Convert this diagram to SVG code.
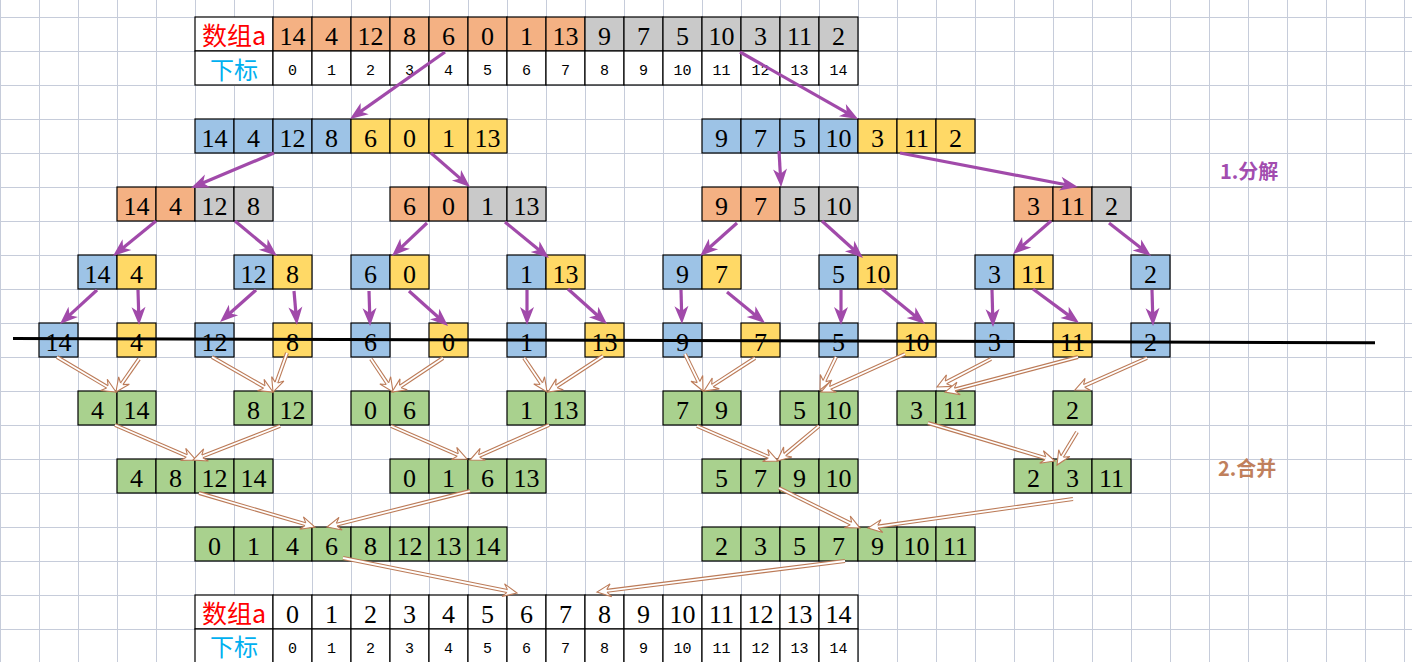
<svg xmlns="http://www.w3.org/2000/svg" width="1412" height="662" viewBox="0 0 1412 662">
<style>
.nd rect{stroke:#000;stroke-width:1.2}
.o{fill:#F4B183}.g{fill:#C9C9C9}.b{fill:#9DC3E6}.y{fill:#FFD966}.v{fill:#A9D18E}.w{fill:#fff}
.nd text{font-family:"Liberation Serif",serif;font-size:26px;text-anchor:middle;fill:#000}
.nd text.ix{font-family:"Liberation Mono",monospace;font-size:15px}
.nd text.lr{font-family:"Noto Sans CJK SC",sans-serif;font-size:25px;fill:#FF0000}
.nd text.lc{font-family:"Noto Sans CJK SC",sans-serif;font-size:24px;fill:#00B0F0}
.pp{stroke:#A14AAA;stroke-width:3.2;fill:none;marker-end:url(#hp)}
.mo{stroke:#BC7B58;stroke-width:4;fill:none}
.mi{stroke:#fff;stroke-width:1.8;fill:none;marker-end:url(#hb)}
.ttl{font-family:"Noto Sans CJK SC",sans-serif;font-size:20px;font-weight:bold}
</style>
<defs>
<pattern id="grid" patternUnits="userSpaceOnUse" x="0" y="17" width="39" height="34">
<path d="M0.5,0V34M0,0.5H39" stroke="#C6CCDA" stroke-width="1" fill="none"/>
</pattern>
<marker id="hp" markerUnits="userSpaceOnUse" viewBox="-8 -9 22 18" refX="0" refY="0" markerWidth="22" markerHeight="18" orient="auto" overflow="visible">
<path d="M12,0L-6,-7L-1,0L-6,7Z" fill="#A14AAA"/>
</marker>
<marker id="hb" markerUnits="userSpaceOnUse" viewBox="-6 -8 18 16" refX="0" refY="0" markerWidth="18" markerHeight="16" orient="auto" overflow="visible">
<path d="M0,1.4L-4,6.5L10,0L-4,-6.5L0,-1.4" fill="#fff" stroke="#BC7B58" stroke-width="1.1"/>
</marker>
</defs>
<rect width="1412" height="662" fill="#fff"/>
<rect width="1412" height="662" fill="url(#grid)"/>

<g id="nodes">
<g id="arr-top" class="nd" transform="translate(195,17)">
<rect class="w" x="0" y="0" width="78" height="34"/><text class="lr" x="39" y="28">数组a</text>
<rect class="o" x="78" y="0" width="39" height="34"/><text x="97.5" y="28">14</text>
<rect class="o" x="117" y="0" width="39" height="34"/><text x="136.5" y="28">4</text>
<rect class="o" x="156" y="0" width="39" height="34"/><text x="175.5" y="28">12</text>
<rect class="o" x="195" y="0" width="39" height="34"/><text x="214.5" y="28">8</text>
<rect class="o" x="234" y="0" width="39" height="34"/><text x="253.5" y="28">6</text>
<rect class="o" x="273" y="0" width="39" height="34"/><text x="292.5" y="28">0</text>
<rect class="o" x="312" y="0" width="39" height="34"/><text x="331.5" y="28">1</text>
<rect class="o" x="351" y="0" width="39" height="34"/><text x="370.5" y="28">13</text>
<rect class="g" x="390" y="0" width="39" height="34"/><text x="409.5" y="28">9</text>
<rect class="g" x="429" y="0" width="39" height="34"/><text x="448.5" y="28">7</text>
<rect class="g" x="468" y="0" width="39" height="34"/><text x="487.5" y="28">5</text>
<rect class="g" x="507" y="0" width="39" height="34"/><text x="526.5" y="28">10</text>
<rect class="g" x="546" y="0" width="39" height="34"/><text x="565.5" y="28">3</text>
<rect class="g" x="585" y="0" width="39" height="34"/><text x="604.5" y="28">11</text>
<rect class="g" x="624" y="0" width="39" height="34"/><text x="643.5" y="28">2</text>
<rect class="w" x="0" y="34" width="78" height="34"/><text class="lc" x="39" y="62">下标</text>
<rect class="w" x="78" y="34" width="39" height="34"/><text class="ix" x="97.5" y="58">0</text>
<rect class="w" x="117" y="34" width="39" height="34"/><text class="ix" x="136.5" y="58">1</text>
<rect class="w" x="156" y="34" width="39" height="34"/><text class="ix" x="175.5" y="58">2</text>
<rect class="w" x="195" y="34" width="39" height="34"/><text class="ix" x="214.5" y="58">3</text>
<rect class="w" x="234" y="34" width="39" height="34"/><text class="ix" x="253.5" y="58">4</text>
<rect class="w" x="273" y="34" width="39" height="34"/><text class="ix" x="292.5" y="58">5</text>
<rect class="w" x="312" y="34" width="39" height="34"/><text class="ix" x="331.5" y="58">6</text>
<rect class="w" x="351" y="34" width="39" height="34"/><text class="ix" x="370.5" y="58">7</text>
<rect class="w" x="390" y="34" width="39" height="34"/><text class="ix" x="409.5" y="58">8</text>
<rect class="w" x="429" y="34" width="39" height="34"/><text class="ix" x="448.5" y="58">9</text>
<rect class="w" x="468" y="34" width="39" height="34"/><text class="ix" x="487.5" y="58">10</text>
<rect class="w" x="507" y="34" width="39" height="34"/><text class="ix" x="526.5" y="58">11</text>
<rect class="w" x="546" y="34" width="39" height="34"/><text class="ix" x="565.5" y="58">12</text>
<rect class="w" x="585" y="34" width="39" height="34"/><text class="ix" x="604.5" y="58">13</text>
<rect class="w" x="624" y="34" width="39" height="34"/><text class="ix" x="643.5" y="58">14</text>
</g>

<g id="l1-left" class="nd" transform="translate(195,119)">
<rect class="b" x="0" width="39" height="34"/><text x="19.5" y="28">14</text>
<rect class="b" x="39" width="39" height="34"/><text x="58.5" y="28">4</text>
<rect class="b" x="78" width="39" height="34"/><text x="97.5" y="28">12</text>
<rect class="b" x="117" width="39" height="34"/><text x="136.5" y="28">8</text>
<rect class="y" x="156" width="39" height="34"/><text x="175.5" y="28">6</text>
<rect class="y" x="195" width="39" height="34"/><text x="214.5" y="28">0</text>
<rect class="y" x="234" width="39" height="34"/><text x="253.5" y="28">1</text>
<rect class="y" x="273" width="39" height="34"/><text x="292.5" y="28">13</text>
</g>
<g id="l1-right" class="nd" transform="translate(702,119)">
<rect class="b" x="0" width="39" height="34"/><text x="19.5" y="28">9</text>
<rect class="b" x="39" width="39" height="34"/><text x="58.5" y="28">7</text>
<rect class="b" x="78" width="39" height="34"/><text x="97.5" y="28">5</text>
<rect class="b" x="117" width="39" height="34"/><text x="136.5" y="28">10</text>
<rect class="y" x="156" width="39" height="34"/><text x="175.5" y="28">3</text>
<rect class="y" x="195" width="39" height="34"/><text x="214.5" y="28">11</text>
<rect class="y" x="234" width="39" height="34"/><text x="253.5" y="28">2</text>
</g>

<g id="l2-a" class="nd" transform="translate(117,187)">
<rect class="o" x="0" width="39" height="34"/><text x="19.5" y="28">14</text>
<rect class="o" x="39" width="39" height="34"/><text x="58.5" y="28">4</text>
<rect class="g" x="78" width="39" height="34"/><text x="97.5" y="28">12</text>
<rect class="g" x="117" width="39" height="34"/><text x="136.5" y="28">8</text>
</g>
<g id="l2-b" class="nd" transform="translate(390,187)">
<rect class="o" x="0" width="39" height="34"/><text x="19.5" y="28">6</text>
<rect class="o" x="39" width="39" height="34"/><text x="58.5" y="28">0</text>
<rect class="g" x="78" width="39" height="34"/><text x="97.5" y="28">1</text>
<rect class="g" x="117" width="39" height="34"/><text x="136.5" y="28">13</text>
</g>
<g id="l2-c" class="nd" transform="translate(702,187)">
<rect class="o" x="0" width="39" height="34"/><text x="19.5" y="28">9</text>
<rect class="o" x="39" width="39" height="34"/><text x="58.5" y="28">7</text>
<rect class="g" x="78" width="39" height="34"/><text x="97.5" y="28">5</text>
<rect class="g" x="117" width="39" height="34"/><text x="136.5" y="28">10</text>
</g>
<g id="l2-d" class="nd" transform="translate(1014,187)">
<rect class="o" x="0" width="39" height="34"/><text x="19.5" y="28">3</text>
<rect class="o" x="39" width="39" height="34"/><text x="58.5" y="28">11</text>
<rect class="g" x="78" width="39" height="34"/><text x="97.5" y="28">2</text>
</g>

<g id="l3-1" class="nd" transform="translate(78,255)">
<rect class="b" x="0" width="39" height="34"/><text x="19.5" y="28">14</text>
<rect class="y" x="39" width="39" height="34"/><text x="58.5" y="28">4</text>
</g>
<g id="l3-2" class="nd" transform="translate(234,255)">
<rect class="b" x="0" width="39" height="34"/><text x="19.5" y="28">12</text>
<rect class="y" x="39" width="39" height="34"/><text x="58.5" y="28">8</text>
</g>
<g id="l3-3" class="nd" transform="translate(351,255)">
<rect class="b" x="0" width="39" height="34"/><text x="19.5" y="28">6</text>
<rect class="y" x="39" width="39" height="34"/><text x="58.5" y="28">0</text>
</g>
<g id="l3-4" class="nd" transform="translate(507,255)">
<rect class="b" x="0" width="39" height="34"/><text x="19.5" y="28">1</text>
<rect class="y" x="39" width="39" height="34"/><text x="58.5" y="28">13</text>
</g>
<g id="l3-5" class="nd" transform="translate(663,255)">
<rect class="b" x="0" width="39" height="34"/><text x="19.5" y="28">9</text>
<rect class="y" x="39" width="39" height="34"/><text x="58.5" y="28">7</text>
</g>
<g id="l3-6" class="nd" transform="translate(819,255)">
<rect class="b" x="0" width="39" height="34"/><text x="19.5" y="28">5</text>
<rect class="y" x="39" width="39" height="34"/><text x="58.5" y="28">10</text>
</g>
<g id="l3-7" class="nd" transform="translate(975,255)">
<rect class="b" x="0" width="39" height="34"/><text x="19.5" y="28">3</text>
<rect class="y" x="39" width="39" height="34"/><text x="58.5" y="28">11</text>
</g>
<g id="l3-8" class="nd" transform="translate(1131,255)">
<rect class="b" x="0" width="39" height="34"/><text x="19.5" y="28">2</text>
</g>

<g id="l4-1" class="nd" transform="translate(39,323)"><rect class="b" width="39" height="34"/><text x="19.5" y="28">14</text></g>
<g id="l4-2" class="nd" transform="translate(117,323)"><rect class="y" width="39" height="34"/><text x="19.5" y="28">4</text></g>
<g id="l4-3" class="nd" transform="translate(195,323)"><rect class="b" width="39" height="34"/><text x="19.5" y="28">12</text></g>
<g id="l4-4" class="nd" transform="translate(273,323)"><rect class="y" width="39" height="34"/><text x="19.5" y="28">8</text></g>
<g id="l4-5" class="nd" transform="translate(351,323)"><rect class="b" width="39" height="34"/><text x="19.5" y="28">6</text></g>
<g id="l4-6" class="nd" transform="translate(429,323)"><rect class="y" width="39" height="34"/><text x="19.5" y="28">0</text></g>
<g id="l4-7" class="nd" transform="translate(507,323)"><rect class="b" width="39" height="34"/><text x="19.5" y="28">1</text></g>
<g id="l4-8" class="nd" transform="translate(585,323)"><rect class="y" width="39" height="34"/><text x="19.5" y="28">13</text></g>
<g id="l4-9" class="nd" transform="translate(663,323)"><rect class="b" width="39" height="34"/><text x="19.5" y="28">9</text></g>
<g id="l4-10" class="nd" transform="translate(741,323)"><rect class="y" width="39" height="34"/><text x="19.5" y="28">7</text></g>
<g id="l4-11" class="nd" transform="translate(819,323)"><rect class="b" width="39" height="34"/><text x="19.5" y="28">5</text></g>
<g id="l4-12" class="nd" transform="translate(897,323)"><rect class="y" width="39" height="34"/><text x="19.5" y="28">10</text></g>
<g id="l4-13" class="nd" transform="translate(975,323)"><rect class="b" width="39" height="34"/><text x="19.5" y="28">3</text></g>
<g id="l4-14" class="nd" transform="translate(1053,323)"><rect class="y" width="39" height="34"/><text x="19.5" y="28">11</text></g>
<g id="l4-15" class="nd" transform="translate(1131,323)"><rect class="b" width="39" height="34"/><text x="19.5" y="28">2</text></g>

<g id="m1-1" class="nd" transform="translate(78,391)">
<rect class="v" x="0" width="39" height="34"/><text x="19.5" y="28">4</text>
<rect class="v" x="39" width="39" height="34"/><text x="58.5" y="28">14</text>
</g>
<g id="m1-2" class="nd" transform="translate(234,391)">
<rect class="v" x="0" width="39" height="34"/><text x="19.5" y="28">8</text>
<rect class="v" x="39" width="39" height="34"/><text x="58.5" y="28">12</text>
</g>
<g id="m1-3" class="nd" transform="translate(351,391)">
<rect class="v" x="0" width="39" height="34"/><text x="19.5" y="28">0</text>
<rect class="v" x="39" width="39" height="34"/><text x="58.5" y="28">6</text>
</g>
<g id="m1-4" class="nd" transform="translate(507,391)">
<rect class="v" x="0" width="39" height="34"/><text x="19.5" y="28">1</text>
<rect class="v" x="39" width="39" height="34"/><text x="58.5" y="28">13</text>
</g>
<g id="m1-5" class="nd" transform="translate(663,391)">
<rect class="v" x="0" width="39" height="34"/><text x="19.5" y="28">7</text>
<rect class="v" x="39" width="39" height="34"/><text x="58.5" y="28">9</text>
</g>
<g id="m1-6" class="nd" transform="translate(780,391)">
<rect class="v" x="0" width="39" height="34"/><text x="19.5" y="28">5</text>
<rect class="v" x="39" width="39" height="34"/><text x="58.5" y="28">10</text>
</g>
<g id="m1-7" class="nd" transform="translate(897,391)">
<rect class="v" x="0" width="39" height="34"/><text x="19.5" y="28">3</text>
<rect class="v" x="39" width="39" height="34"/><text x="58.5" y="28">11</text>
</g>
<g id="m1-8" class="nd" transform="translate(1053,391)">
<rect class="v" x="0" width="39" height="34"/><text x="19.5" y="28">2</text>
</g>

<g id="m2-1" class="nd" transform="translate(117,459)">
<rect class="v" x="0" width="39" height="34"/><text x="19.5" y="28">4</text>
<rect class="v" x="39" width="39" height="34"/><text x="58.5" y="28">8</text>
<rect class="v" x="78" width="39" height="34"/><text x="97.5" y="28">12</text>
<rect class="v" x="117" width="39" height="34"/><text x="136.5" y="28">14</text>
</g>
<g id="m2-2" class="nd" transform="translate(390,459)">
<rect class="v" x="0" width="39" height="34"/><text x="19.5" y="28">0</text>
<rect class="v" x="39" width="39" height="34"/><text x="58.5" y="28">1</text>
<rect class="v" x="78" width="39" height="34"/><text x="97.5" y="28">6</text>
<rect class="v" x="117" width="39" height="34"/><text x="136.5" y="28">13</text>
</g>
<g id="m2-3" class="nd" transform="translate(702,459)">
<rect class="v" x="0" width="39" height="34"/><text x="19.5" y="28">5</text>
<rect class="v" x="39" width="39" height="34"/><text x="58.5" y="28">7</text>
<rect class="v" x="78" width="39" height="34"/><text x="97.5" y="28">9</text>
<rect class="v" x="117" width="39" height="34"/><text x="136.5" y="28">10</text>
</g>
<g id="m2-4" class="nd" transform="translate(1014,459)">
<rect class="v" x="0" width="39" height="34"/><text x="19.5" y="28">2</text>
<rect class="v" x="39" width="39" height="34"/><text x="58.5" y="28">3</text>
<rect class="v" x="78" width="39" height="34"/><text x="97.5" y="28">11</text>
</g>

<g id="m3-1" class="nd" transform="translate(195,527)">
<rect class="v" x="0" width="39" height="34"/><text x="19.5" y="28">0</text>
<rect class="v" x="39" width="39" height="34"/><text x="58.5" y="28">1</text>
<rect class="v" x="78" width="39" height="34"/><text x="97.5" y="28">4</text>
<rect class="v" x="117" width="39" height="34"/><text x="136.5" y="28">6</text>
<rect class="v" x="156" width="39" height="34"/><text x="175.5" y="28">8</text>
<rect class="v" x="195" width="39" height="34"/><text x="214.5" y="28">12</text>
<rect class="v" x="234" width="39" height="34"/><text x="253.5" y="28">13</text>
<rect class="v" x="273" width="39" height="34"/><text x="292.5" y="28">14</text>
</g>
<g id="m3-2" class="nd" transform="translate(702,527)">
<rect class="v" x="0" width="39" height="34"/><text x="19.5" y="28">2</text>
<rect class="v" x="39" width="39" height="34"/><text x="58.5" y="28">3</text>
<rect class="v" x="78" width="39" height="34"/><text x="97.5" y="28">5</text>
<rect class="v" x="117" width="39" height="34"/><text x="136.5" y="28">7</text>
<rect class="v" x="156" width="39" height="34"/><text x="175.5" y="28">9</text>
<rect class="v" x="195" width="39" height="34"/><text x="214.5" y="28">10</text>
<rect class="v" x="234" width="39" height="34"/><text x="253.5" y="28">11</text>
</g>

<g id="arr-final" class="nd" transform="translate(195,595)">
<rect class="w" x="0" y="0" width="78" height="34"/><text class="lr" x="39" y="28">数组a</text>
<rect class="w" x="78" y="0" width="39" height="34"/><text x="97.5" y="28">0</text>
<rect class="w" x="117" y="0" width="39" height="34"/><text x="136.5" y="28">1</text>
<rect class="w" x="156" y="0" width="39" height="34"/><text x="175.5" y="28">2</text>
<rect class="w" x="195" y="0" width="39" height="34"/><text x="214.5" y="28">3</text>
<rect class="w" x="234" y="0" width="39" height="34"/><text x="253.5" y="28">4</text>
<rect class="w" x="273" y="0" width="39" height="34"/><text x="292.5" y="28">5</text>
<rect class="w" x="312" y="0" width="39" height="34"/><text x="331.5" y="28">6</text>
<rect class="w" x="351" y="0" width="39" height="34"/><text x="370.5" y="28">7</text>
<rect class="w" x="390" y="0" width="39" height="34"/><text x="409.5" y="28">8</text>
<rect class="w" x="429" y="0" width="39" height="34"/><text x="448.5" y="28">9</text>
<rect class="w" x="468" y="0" width="39" height="34"/><text x="487.5" y="28">10</text>
<rect class="w" x="507" y="0" width="39" height="34"/><text x="526.5" y="28">11</text>
<rect class="w" x="546" y="0" width="39" height="34"/><text x="565.5" y="28">12</text>
<rect class="w" x="585" y="0" width="39" height="34"/><text x="604.5" y="28">13</text>
<rect class="w" x="624" y="0" width="39" height="34"/><text x="643.5" y="28">14</text>
<rect class="w" x="0" y="34" width="78" height="34"/><text class="lc" x="39" y="60.5">下标</text>
<rect class="w" x="78" y="34" width="39" height="34"/><text class="ix" x="97.5" y="58">0</text>
<rect class="w" x="117" y="34" width="39" height="34"/><text class="ix" x="136.5" y="58">1</text>
<rect class="w" x="156" y="34" width="39" height="34"/><text class="ix" x="175.5" y="58">2</text>
<rect class="w" x="195" y="34" width="39" height="34"/><text class="ix" x="214.5" y="58">3</text>
<rect class="w" x="234" y="34" width="39" height="34"/><text class="ix" x="253.5" y="58">4</text>
<rect class="w" x="273" y="34" width="39" height="34"/><text class="ix" x="292.5" y="58">5</text>
<rect class="w" x="312" y="34" width="39" height="34"/><text class="ix" x="331.5" y="58">6</text>
<rect class="w" x="351" y="34" width="39" height="34"/><text class="ix" x="370.5" y="58">7</text>
<rect class="w" x="390" y="34" width="39" height="34"/><text class="ix" x="409.5" y="58">8</text>
<rect class="w" x="429" y="34" width="39" height="34"/><text class="ix" x="448.5" y="58">9</text>
<rect class="w" x="468" y="34" width="39" height="34"/><text class="ix" x="487.5" y="58">10</text>
<rect class="w" x="507" y="34" width="39" height="34"/><text class="ix" x="526.5" y="58">11</text>
<rect class="w" x="546" y="34" width="39" height="34"/><text class="ix" x="565.5" y="58">12</text>
<rect class="w" x="585" y="34" width="39" height="34"/><text class="ix" x="604.5" y="58">13</text>
<rect class="w" x="624" y="34" width="39" height="34"/><text class="ix" x="643.5" y="58">14</text>
</g>
</g>

<line id="divider" x1="13" y1="338.5" x2="1375" y2="342.7" stroke="#000" stroke-width="3"/>

<g id="connectors">
<g id="split">
<line class="pp" x1="445" y1="52" x2="359.8" y2="112.1"/>
<line class="pp" x1="740" y1="52" x2="847.6" y2="113.1"/>
<line class="pp" x1="274" y1="153" x2="202.1" y2="183.3"/>
<line class="pp" x1="431" y1="153" x2="461" y2="179.1"/>
<line class="pp" x1="779" y1="151" x2="780.4" y2="175"/>
<line class="pp" x1="900" y1="153" x2="1066.2" y2="184.7"/>
<line class="pp" x1="156" y1="221" x2="122.3" y2="248.4"/>
<line class="pp" x1="235" y1="221" x2="267.8" y2="248.3"/>
<line class="pp" x1="97" y1="290" x2="68.8" y2="315.9"/>
<line class="pp" x1="138" y1="290" x2="138.7" y2="313"/>
<line class="pp" x1="256" y1="290" x2="229" y2="314"/>
<line class="pp" x1="294" y1="291" x2="295.9" y2="313"/>
<line class="pp" x1="427" y1="223" x2="400.7" y2="247.8"/>
<line class="pp" x1="369" y1="291" x2="369.7" y2="314"/>
<line class="pp" x1="409" y1="291" x2="439.1" y2="318"/>
<line class="pp" x1="505" y1="222" x2="539.7" y2="250.4"/>
<line class="pp" x1="527" y1="290" x2="527" y2="313"/>
<line class="pp" x1="568" y1="289" x2="598.1" y2="316"/>
<line class="pp" x1="737" y1="223" x2="709" y2="248"/>
<line class="pp" x1="681" y1="290" x2="681.6" y2="312"/>
<line class="pp" x1="727" y1="292" x2="755.7" y2="315.4"/>
<line class="pp" x1="822" y1="221" x2="854.1" y2="250"/>
<line class="pp" x1="841" y1="290" x2="841" y2="313"/>
<line class="pp" x1="882" y1="289" x2="915.7" y2="316.4"/>
<line class="pp" x1="1051" y1="221" x2="1022.1" y2="246.1"/>
<line class="pp" x1="1109" y1="223" x2="1141.6" y2="248.6"/>
<line class="pp" x1="992" y1="290" x2="992.7" y2="315"/>
<line class="pp" x1="1033" y1="289" x2="1069.4" y2="315.9"/>
<line class="pp" x1="1152" y1="290" x2="1152.7" y2="314"/>
</g>
<g id="merge">
<line class="mo" x1="57" y1="357" x2="107.4" y2="386.9"/><line class="mi" x1="57" y1="357" x2="107.4" y2="386.9"/>
<line class="mo" x1="139" y1="359" x2="121.7" y2="383.8"/><line class="mi" x1="139" y1="359" x2="121.7" y2="383.8"/>
<line class="mo" x1="212" y1="357" x2="264.3" y2="387"/><line class="mi" x1="212" y1="357" x2="264.3" y2="387"/>
<line class="mo" x1="287" y1="353" x2="276.4" y2="382.6"/><line class="mi" x1="287" y1="353" x2="276.4" y2="382.6"/>
<line class="mo" x1="371" y1="359" x2="387.5" y2="383.7"/><line class="mi" x1="371" y1="359" x2="387.5" y2="383.7"/>
<line class="mo" x1="443" y1="358" x2="400.3" y2="386.5"/><line class="mi" x1="443" y1="358" x2="400.3" y2="386.5"/>
<line class="mo" x1="524" y1="358" x2="541.4" y2="383.7"/><line class="mi" x1="524" y1="358" x2="541.4" y2="383.7"/>
<line class="mo" x1="603" y1="356" x2="556.4" y2="386.5"/><line class="mi" x1="603" y1="356" x2="556.4" y2="386.5"/>
<line class="mo" x1="685" y1="354" x2="698.6" y2="382"/><line class="mi" x1="685" y1="354" x2="698.6" y2="382"/>
<line class="mo" x1="755" y1="358" x2="712.4" y2="385.6"/><line class="mi" x1="755" y1="358" x2="712.4" y2="385.6"/>
<line class="mo" x1="836" y1="357" x2="824.4" y2="381"/><line class="mi" x1="836" y1="357" x2="824.4" y2="381"/>
<line class="mo" x1="905" y1="354" x2="830.1" y2="387.9"/><line class="mi" x1="905" y1="354" x2="830.1" y2="387.9"/>
<line class="mo" x1="991" y1="359" x2="945.9" y2="382.4"/><line class="mi" x1="991" y1="359" x2="945.9" y2="382.4"/>
<line class="mo" x1="1078" y1="357" x2="954.7" y2="389.5"/><line class="mi" x1="1078" y1="357" x2="954.7" y2="389.5"/>
<line class="mo" x1="1147" y1="358" x2="1084.1" y2="385.9"/><line class="mi" x1="1147" y1="358" x2="1084.1" y2="385.9"/>
<line class="mo" x1="115" y1="425" x2="186.8" y2="456"/><line class="mi" x1="115" y1="425" x2="186.8" y2="456"/>
<line class="mo" x1="280" y1="426" x2="202.3" y2="456.4"/><line class="mi" x1="280" y1="426" x2="202.3" y2="456.4"/>
<line class="mo" x1="391" y1="426" x2="457.8" y2="455"/><line class="mi" x1="391" y1="426" x2="457.8" y2="455"/>
<line class="mo" x1="549" y1="425" x2="479.1" y2="456"/><line class="mi" x1="549" y1="425" x2="479.1" y2="456"/>
<line class="mo" x1="697" y1="426" x2="768.8" y2="457"/><line class="mi" x1="697" y1="426" x2="768.8" y2="457"/>
<line class="mo" x1="819" y1="426" x2="784.7" y2="454.6"/><line class="mi" x1="819" y1="426" x2="784.7" y2="454.6"/>
<line class="mo" x1="928" y1="423" x2="1045.4" y2="458.1"/><line class="mi" x1="928" y1="423" x2="1045.4" y2="458.1"/>
<line class="mo" x1="1077" y1="432" x2="1062.2" y2="456.5"/><line class="mi" x1="1077" y1="432" x2="1062.2" y2="456.5"/>
<line class="mo" x1="199" y1="493" x2="305.4" y2="524.2"/><line class="mi" x1="199" y1="493" x2="305.4" y2="524.2"/>
<line class="mo" x1="470" y1="491" x2="336.7" y2="524.6"/><line class="mi" x1="470" y1="491" x2="336.7" y2="524.6"/>
<line class="mo" x1="779" y1="488" x2="851" y2="523.6"/><line class="mi" x1="779" y1="488" x2="851" y2="523.6"/>
<line class="mo" x1="1073" y1="499" x2="877.9" y2="526.6"/><line class="mi" x1="1073" y1="499" x2="877.9" y2="526.6"/>
<line class="mo" x1="343" y1="558" x2="507.2" y2="591"/><line class="mi" x1="343" y1="558" x2="507.2" y2="591"/>
<line class="mo" x1="845" y1="561" x2="606.9" y2="590.8"/><line class="mi" x1="845" y1="561" x2="606.9" y2="590.8"/>
</g>
</g>

<text class="ttl" x="1220" y="178.5" fill="#A24DAF">1.分解</text>
<text class="ttl" x="1218" y="476" fill="#C0805C">2.合并</text>
</svg>
